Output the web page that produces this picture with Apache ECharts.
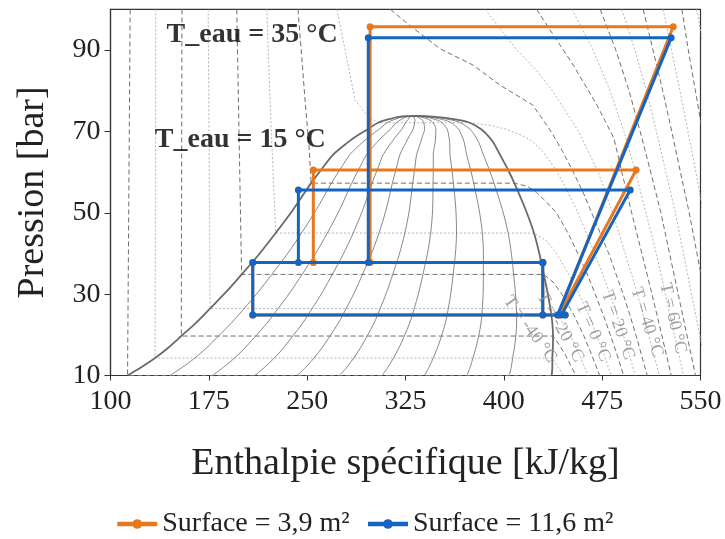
<!DOCTYPE html>
<html><head><meta charset="utf-8">
<script src="https://cdn.jsdelivr.net/npm/echarts@6/dist/echarts.min.js"></script>
<style>html,body{margin:0;padding:0;background:#fff}#c{width:725px;height:539px}</style>
</head><body><div id="c"></div>
<script>
// ---- saturation dome (CO2) ----
const satT  = [-40, -35, -30, -25, -20, -15, -10, -5, 0, 5, 10, 15, 20, 22.5, 25, 27, 28, 29, 30, 30.5, 30.9, 31];
const satP  = [10.0, 12.02, 14.28, 16.82, 19.70, 22.9, 26.49, 30.47, 34.85, 39.69, 45.02, 50.87, 57.29, 60.7, 64.34, 67.3, 68.91, 70.5, 72.14, 72.9, 73.6, 73.8];
const satHl = [113, 123.5, 134, 144, 154, 165, 176, 188, 200, 213, 226, 239.5, 253, 261, 270, 281, 288, 296, 304, 311, 320, 332];
const satHv = [436.5, 437, 437, 437.4, 437.5, 437, 435.5, 433.3, 430.5, 427.3, 423, 416.5, 408, 403, 397, 392, 388, 383, 374, 364, 348, 332];
const qualities = [0.1, 0.2, 0.3, 0.4, 0.5, 0.6, 0.7, 0.8, 0.9];

// ---- isotherms [h, P] ----
const isoTemps = [-40, -30, -20, -10, 0, 10, 20, 30, 40, 50, 60, 70, 80, 90, 100, 110, 120, 130];
const iso_m40 = [[115,100],[113,10],[436.5,10]];
const iso_m30 = [[134.5,100],[134,14.28],[437,14.28],[441.5,12],[445.6,10]];
const iso_m20 = [[154.5,100],[154,19.7],[437.5,19.7],[442.4,17.5],[447,15],[451,12.5],[455,10]];
const iso_m10 = [[174.5,100],[176,26.49],[435.5,26.49],[442.8,24],[450.5,20],[457.8,15],[464.2,10]];
const iso_0   = [[196.3,100],[198,70],[200,34.85],[430.5,34.85],[437.5,33],[444.3,30],[453.2,25],[460.7,20],[467.1,15],[473.1,10]];
const iso_10  = [[219.2,100],[222,75],[226,45.02],[423,45.02],[433,43],[440.1,40],[449.3,35],[457.4,30],[464.5,25],[470.7,20],[476.5,15],[482,10]];
const iso_20  = [[243,100],[248.4,77.7],[251.5,66],[253,57.29],[408,57.29],[418,56.5],[425,55],[433,52.5],[440.1,50],[449,45],[456.4,40],[463.5,35],[469.7,30],[475.7,25],[481.2,20],[486.5,15],[491.3,10]];
const iso_30  = [[272.6,100],[279,90],[286.5,77.7],[295.5,74],[304,72.14],[374,72.14],[390,71.5],[402,70.5],[414,69],[422,67.5],[430,65],[440.8,60],[449,55],[456.5,50],[463,45],[469.2,40],[475.3,35],[480.9,30],[486.2,25],[491.1,20],[495.8,15],[500.3,10]];
const iso_40  = [[313.5,100],[328.5,96],[351,90.4],[376.6,86.3],[397,81.4],[422,76.5],[436,70],[445,65],[453,60],[460.5,55],[467,50],[473.5,45],[480,40],[485.5,35],[491,30],[496,25],[500.7,20],[505,15],[509.4,10]];
const iso_50  = [[385.7,100],[410,90],[425,85],[437,80],[457,70],[472,60],[483,50],[492.5,40],[502,30],[510.4,20],[518.6,10]];
const iso_60  = [[425,100],[438,93.6],[453,86.3],[471,76.5],[484,68.3],[490,60],[497.5,50],[505.3,40],[513,30],[520.4,20],[527.7,10]];
const iso_70  = [[452,100],[468,90],[481,80],[491.6,70],[500.5,60],[508.4,50],[516.3,40],[523.2,30],[530.1,20],[537,10]];
const iso_80  = [[473.5,100],[485.4,90],[495.5,80],[504,70],[512,60],[519.8,50],[526.4,40],[533,30],[539.6,20],[546.2,10]];
const iso_90  = [[490,100],[500,90],[508.7,80],[516.4,70],[523.6,60],[530.8,50],[537,40],[543.2,30],[549.4,20],[555.6,10]];
const iso_100 = [[506.3,100],[513.8,90],[521.2,80],[528.1,70],[534.7,60],[541.4,50],[547.3,40],[553.2,30]];
const iso_110 = [[521.5,100],[527.9,90],[534.3,80],[540.4,70],[546.5,60],[552.1,50]];
const iso_120 = [[535.8,100],[540.7,90],[546.1,80],[551.5,70]];
const iso_130 = [[547.2,100],[552.7,90]];

// ---- isotherm labels ----
const isoLabelT     = [-40, -20, 0, 20, 40, 60];
const isoLabelH     = [420, 443, 468, 487, 509, 529];
const isoLabelP     = [21.4, 21.9, 20.7, 22.4, 23.1, 24.1];
const isoLabelAngle = [-54, -60, -66, -71, -72, -77];

// ---- water temperature annotations ----
const teauText = ['T_eau = 35 °C', 'T_eau = 15 °C'];
const teauH = [208, 199];
const teauP = [93.7, 67.9];

// ---- cycles ----
const seriesNames = ['Surface = 3,9 m²', 'Surface = 11,6 m²'];
const orangeHigh = [[441.5,24.9],[529.2,95.75],[298,95.75],[298,37.8]];
const orangeLow  = [[442,24.9],[500.9,60.5],[254.7,60.5],[254.7,37.8]];
const blueHigh   = [[441,24.9],[527.6,93.0],[296.6,93.0],[296.6,37.8]];
const blueLow    = [[444,24.9],[496.4,55.6],[243.3,55.6],[243.3,37.8]];
const lowStageA  = [[429.7,37.8],[208.5,37.8],[208.5,24.9],[446.8,24.9]];
const lowStageB  = [[429.7,37.8],[429.7,24.9]];

// ---- axes ----
const xMin = 100, xMax = 550, xStep = 75;
const yMin = 10, yMax = 100, yStep = 20;

const isoData = [iso_m40, iso_m30, iso_m20, iso_m10, iso_0, iso_10, iso_20, iso_30, iso_40, iso_50, iso_60, iso_70, iso_80, iso_90, iso_100, iso_110, iso_120, iso_130];
const serif = 'Liberation Serif';
const ORANGE = '#e8781e', BLUE = '#1565c0';

const series = [];
isoTemps.forEach((T, i) => {
  const major = (T % 20 === 0);
  series.push({
    type: 'line', data: isoData[i], showSymbol: false, symbol: 'none', silent: true, z: 1,
    lineStyle: { color: major ? '#707070' : '#adadad', width: major ? 1 : 0.9, type: major ? [5, 3] : [2, 2] }
  });
});
qualities.forEach(q => {
  series.push({
    type: 'line', showSymbol: false, symbol: 'none', silent: true, z: 2, smooth: 0.3,
    data: satHl.map((h, i) => [h + q * (satHv[i] - h), satP[i]]),
    lineStyle: { color: '#7a7a7a', width: 0.9 }
  });
});
series.push({
  type: 'line', showSymbol: false, symbol: 'none', silent: true, z: 2, smooth: 0.3,
  data: satHl.map((h, i) => [h, satP[i]]).concat(satHv.map((h, i) => [h, satP[i]]).reverse().slice(1)),
  lineStyle: { color: '#6a6a6a', width: 1.8 }
});

function cyc(name, data, color, z) {
  return {
    type: 'line', name: name, data: data, z: z,
    symbol: 'circle', symbolSize: 7, showSymbol: true,
    lineStyle: { color: color, width: 3 }, itemStyle: { color: color }
  };
}
[orangeHigh, orangeLow, lowStageA, lowStageB].forEach(d => series.push(cyc(seriesNames[0], d, ORANGE, 4)));
[blueHigh, blueLow, lowStageA, lowStageB].forEach(d => series.push(cyc(seriesNames[1], d, BLUE, 5)));

isoLabelT.forEach((T, i) => {
  series.push({
    type: 'scatter', silent: true, z: 6, symbolSize: 0,
    data: [[isoLabelH[i], isoLabelP[i]]],
    label: { show: true, position: 'inside', formatter: 'T = ' + T + ' °C', rotate: isoLabelAngle[i],
      fontFamily: serif, fontSize: 18, color: '#8a8a8a' }
  });
});
teauText.forEach((t, i) => {
  series.push({
    type: 'scatter', silent: true, z: 6, symbolSize: 0,
    data: [[teauH[i], teauP[i]]],
    label: { show: true, position: 'inside', formatter: t,
      fontFamily: serif, fontSize: 28, fontWeight: 'bold', color: '#000' }
  });
});

const chart = echarts.init(document.getElementById('c'), null, { renderer: 'canvas' });
chart.setOption({
  animation: false,
  backgroundColor: '#ffffff',
  grid: { left: 110.5, right: 24.5, top: 9.4, bottom: 163.5, show: true, borderColor: '#333', borderWidth: 1.2, backgroundColor: 'transparent' },
  legend: {
    data: seriesNames, left: 110, top: 505, itemWidth: 40, itemHeight: 12, itemGap: 16,
    lineStyle: { width: 4.5 },
    textStyle: { fontFamily: serif, fontSize: 28, color: '#222' }
  },
  xAxis: {
    type: 'value', min: xMin, max: xMax, interval: xStep,
    name: 'Enthalpie spécifique [kJ/kg]', nameLocation: 'middle', nameGap: 70,
    nameTextStyle: { fontFamily: serif, fontSize: 38, color: '#222' },
    axisLine: { lineStyle: { color: '#333', width: 1.2 } },
    axisTick: { length: 5, lineStyle: { color: '#333' } },
    axisLabel: { fontFamily: serif, fontSize: 28, color: '#222', margin: 12 },
    splitLine: { show: false }
  },
  yAxis: {
    type: 'value', min: yMin, max: yMax, interval: yStep,
    name: 'Pression [bar]', nameLocation: 'middle', nameGap: 58, nameRotate: 90,
    nameTextStyle: { fontFamily: serif, fontSize: 38, color: '#222' },
    axisLine: { lineStyle: { color: '#333', width: 1.2 } },
    axisTick: { length: 6, lineStyle: { color: '#333' } },
    axisLabel: { fontFamily: serif, fontSize: 28, color: '#222', margin: 10, showMaxLabel: false },
    splitLine: { show: false }
  },
  series: series
});
</script></body></html>
